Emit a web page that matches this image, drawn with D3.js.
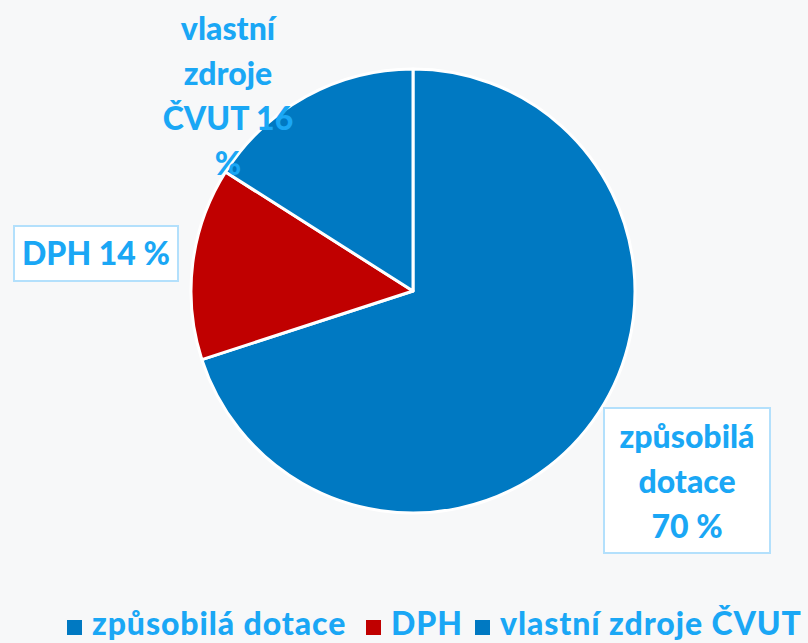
<!DOCTYPE html>
<html lang="cs">
<head>
<meta charset="utf-8">
<title>Financování</title>
<script src="https://d3js.org/d3.v7.min.js"></script>
<style>
    body { margin: 0; background: #f7f8f9; }
    svg { display: block; font-family: Lato, "Open Sans", sans-serif; font-weight: 900; }
</style>
</head>
<body>
<script>
    var w = 808;
    var h = 643;

    var categories = ["způsobilá dotace", "DPH", "vlastní zdroje ČVUT"];
    var values = [70, 14, 16];
    var colors = ["#0079c2", "#c00000", "#0079c2"];
    // label text split into lines, as in the original
    var labelLines = [["způsobilá", "dotace", "70 %"], ["DPH 14 %"], ["vlastní", "zdroje", "ČVUT 16", "%"]];

    var cx = 413, cy = 291, r = 222;
    var textColor = "#1aa7f5";
    var fontSize = 32;

    var svg = d3.select("body").append("svg")
        .attr("width", w)
        .attr("height", h);

    var pie = d3.pie().sort(null).value(function(d) { return d; });
    var arc = d3.arc().innerRadius(0).outerRadius(r);

    var g = svg.append("g").attr("transform", "translate(" + cx + "," + cy + ")");

    g.selectAll("path")
        .data(pie(values))
        .enter()
        .append("path")
        .attr("d", arc)
        .attr("fill", function(d, i) { return colors[i]; })
        .attr("stroke", "white")
        .attr("stroke-width", 3)
        .attr("stroke-linejoin", "round");

    //label boxes and text (positions set by hand, like the original)
    var labelPos = [
        {x: 687, y: 448, box: [604, 408, 166, 145]},
        {x: 96, y: 265, box: [14, 226, 164, 55]},
        {x: 228, y: 40, box: null}
    ];
    var lineH = 45;

    labelLines.forEach(function(lines, i) {
        var p = labelPos[i];
        if (p.box) {
            svg.append("rect")
                .attr("x", p.box[0]).attr("y", p.box[1])
                .attr("width", p.box[2]).attr("height", p.box[3])
                .attr("fill", "white")
                .attr("stroke", "#b3e0fc")
                .attr("stroke-width", 2);
        }
        var t = svg.append("text")
            .attr("text-anchor", "middle")
            .attr("fill", textColor)
            .attr("font-size", fontSize);
        lines.forEach(function(line, j) {
            t.append("tspan").attr("x", p.x).attr("y", p.y + j * lineH).text(line);
        });
    });

    //legend
    var legendX = [67, 366, 475];
    var legend = svg.selectAll(".legend")
        .data(categories)
        .enter()
        .append("g")
        .attr("class", "legend")
        .attr("transform", function(d, i) { return "translate(" + legendX[i] + ",620)"; });

    legend.append("rect")
        .attr("width", 15).attr("height", 15)
        .attr("fill", function(d, i) { return colors[i]; });

    legend.append("text")
        .attr("x", 25).attr("y", 15)
        .attr("fill", textColor)
        .attr("font-size", fontSize)
        .attr("letter-spacing", 0.9)
        .text(function(d) { return d; });
</script>
</body>
</html>
